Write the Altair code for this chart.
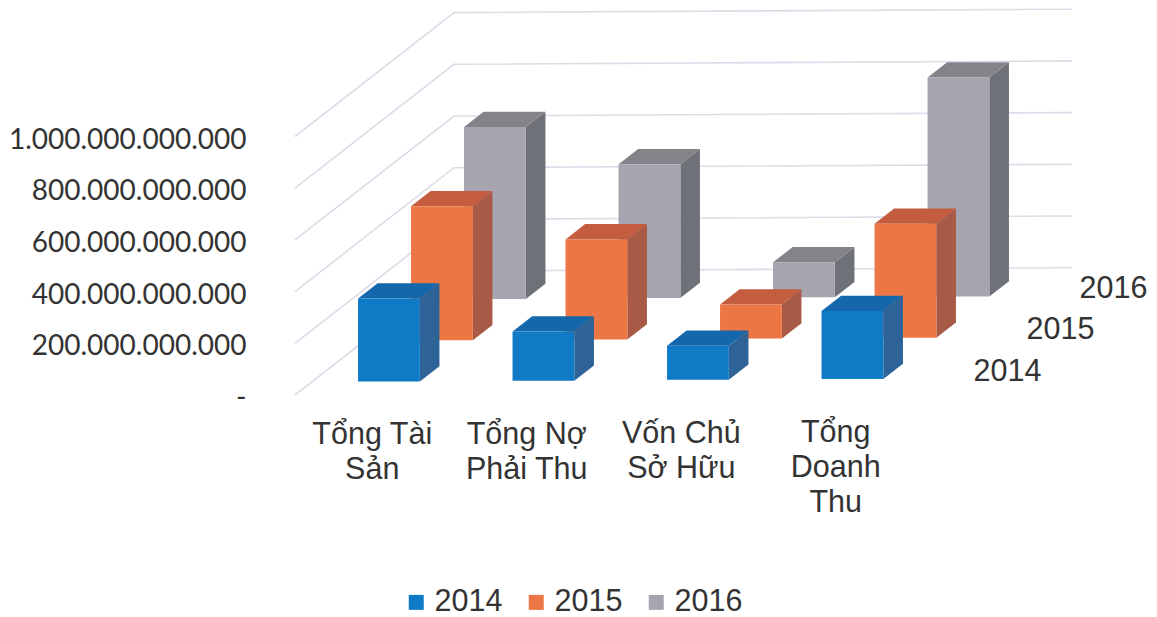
import altair as alt
import pandas as pd

# Data
categories = ["Tổng Tài\nSản", "Tổng Nợ\nPhải Thu", "Vốn Chủ\nSở Hữu", "Tổng\nDoanh\nThu"]
series = ["2014", "2015", "2016"]
values_2014 = [321e9, 190e9, 132e9, 263e9]
values_2015 = [518e9, 387e9, 132e9, 441e9]
values_2016 = [665e9, 518e9, 135e9, 847e9]
value_ticks = [0, 200e9, 400e9, 600e9, 800e9, 1000e9]
front_colors = ["#0F7BC6", "#EC7744", "#A7A4AF"]
top_colors = ["#1567AB", "#C45C3F", "#858389"]
side_colors = ["#2E6398", "#A95A46", "#6F7179"]
all_values = [values_2014, values_2015, values_2016]

# Oblique projection of (category, depth, value) into the two plain axes
UNIT_X = 154.5
UNIT_Y = 258.5 / 1e12
DEPTH_DX, DEPTH_DY, TILT = 53.0, 41.3, 0.85
ORIGIN_X, ORIGIN_Y = 295.0, 395.0
PLOT_L, PLOT_T, PLOT_W, PLOT_H = 254.0, 8.0, 895, 609


def px(c, d):
    return c + d * DEPTH_DX / UNIT_X


def py(c, d, v):
    return v + (d * DEPTH_DY + c * TILT) / UNIT_Y


x_domain = [(PLOT_L - ORIGIN_X) / UNIT_X, (PLOT_L + PLOT_W - ORIGIN_X) / UNIT_X]
y_domain = [(ORIGIN_Y - PLOT_T - PLOT_H) / UNIT_Y, (ORIGIN_Y - PLOT_T) / UNIT_Y]

X = alt.X("x:Q", scale=alt.Scale(domain=x_domain, nice=False, zero=False), axis=None)
Y = alt.Y(
    "y:Q",
    scale=alt.Scale(domain=y_domain, nice=False, zero=False),
    axis=alt.Axis(
        values=value_ticks,
        title=None,
        domain=False,
        ticks=False,
        grid=False,
        labelFont="Lato",
        labelFontSize=28,
        labelColor="#333333",
        labelPadding=8,
        labelOffset=3.5,
        labelLimit=400,
        labelExpr="datum.value == 0 ? '-' : replace(format(datum.value, ',d'), /,/g, '.')",
    ),
)

# Walls
wall_rows = []
for v in value_ticks:
    for k, (c, d) in enumerate([(0, 0), (0, 3), (4, 3)]):
        wall_rows.append({"x": px(c, d), "y": py(c, d, v), "id": v, "k": k})
walls = (
    alt.Chart(pd.DataFrame(wall_rows))
    .mark_line(color="#DCDCE8", strokeWidth=1.6)
    .encode(x=X, y=Y, detail="id:N", order="k:Q")
)

layers = [walls]
BAR_L, BAR_R, BAR_F, BAR_B = 0.30, 0.70, 0.315, 0.685

color_enc = alt.Color(
    "series:N",
    scale=alt.Scale(domain=series, range=front_colors),
    legend=alt.Legend(
        orient="none",
        legendX=147,
        legendY=579,
        direction="horizontal",
        columns=3,
        title=None,
        symbolType="square",
        symbolSize=225,
        symbolStrokeWidth=0,
        labelFont="Liberation Sans",
        labelFontSize=30.5,
        labelColor="#333333",
        labelOffset=3,
        columnPadding=18,
    ),
)

for s in [2, 1, 0]:
    side_rows, top_rows, front_rows = [], [], []
    for i, v in enumerate(all_values[s]):
        cl, cr, cm = i + BAR_L, i + BAR_R, i + 0.5
        df, db = s + BAR_F, s + BAR_B
        for d in (df, db):
            side_rows.append({"x": px(cr, d), "y": py(cm, d, v), "y2": py(cm, d, 0), "id": i})
            top_rows.append({"y": py(cm, d, v), "x": px(cl, d), "x2": px(cr, d), "id": i})
        front_rows.append({
            "x": px(cl, df), "x2": px(cr, df),
            "y": py(cm, df, v), "y2": py(cm, df, 0),
            "series": series[s],
        })
    layers.append(
        alt.Chart(pd.DataFrame(side_rows))
        .mark_area(color=side_colors[s], interpolate="linear")
        .encode(x=X, y=Y, y2="y2:Q", detail="id:N")
    )
    layers.append(
        alt.Chart(pd.DataFrame(top_rows))
        .mark_area(color=top_colors[s], orient="horizontal", interpolate="linear")
        .encode(y=Y, x=X, x2="x2:Q", detail="id:N")
    )
    layers.append(
        alt.Chart(pd.DataFrame(front_rows))
        .mark_rect()
        .encode(x=X, x2="x2:Q", y=Y, y2="y2:Q", color=color_enc)
    )

# Category labels
label_df = pd.DataFrame({
    "x": [px(i + 0.5, 0) for i in range(4)],
    "y": [py(i + 0.5, 0, -0.193e12) for i in range(4)],
    "t": categories,
})
layers.append(
    alt.Chart(label_df)
    .mark_text(font="Liberation Sans", fontSize=30.5, color="#333333", align="center",
               baseline="alphabetic", lineBreak="\n", lineHeight=35)
    .encode(x=X, y=Y, text="t:N")
)

# Series labels along the depth axis
depth_df = pd.DataFrame({
    "x": [px(4.44, s + 0.5) for s in range(3)],
    "y": [py(4.44, s + 0.5, -0.004e12) for s in range(3)],
    "t": series,
})
layers.append(
    alt.Chart(depth_df)
    .mark_text(font="Liberation Sans", fontSize=30.5, color="#333333", align="center", baseline="middle")
    .encode(x=X, y=Y, text="t:N")
)

chart = (
    alt.layer(*layers)
    .properties(
        width=PLOT_W,
        height=PLOT_H,
        padding={"left": 246, "top": 0, "right": 0, "bottom": 0},
        autosize=alt.AutoSizeParams(type="none"),
        background="white",
    )
    .configure_view(stroke=None)
)

chart.save("out.html", embed_options={"renderer": "svg", "actions": False})
